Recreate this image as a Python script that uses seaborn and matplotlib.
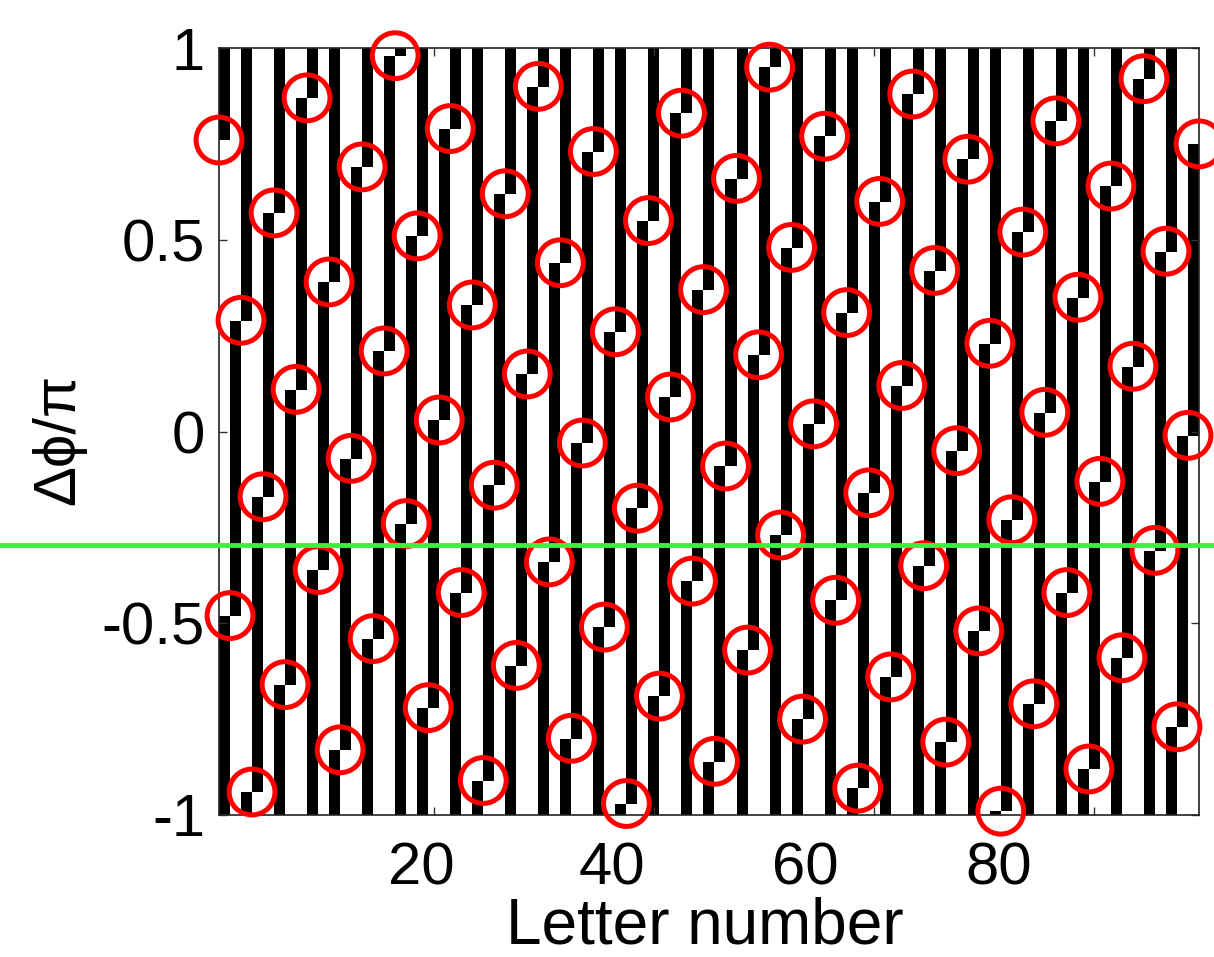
import numpy as np
import matplotlib
matplotlib.use("Agg")
import matplotlib.pyplot as plt
import matplotlib.transforms as mtransforms
from matplotlib.lines import Line2D
import seaborn as sns
import pandas as pd

# ---------------- data ----------------
# phase difference (in units of pi) at each boundary between letters
phase = [0.76, -0.48, 0.29, -0.94, -0.17, 0.57, -0.66, 0.11, 0.87, -0.36,
         0.39, -0.83, -0.07, 0.69, -0.54, 0.21, 0.98, -0.24, 0.51, -0.72,
         0.03, 0.79, -0.42, 0.33, -0.91, -0.14, 0.62, -0.61, 0.15, 0.90,
         -0.34, 0.44, -0.80, -0.03, 0.73, -0.51, 0.26, -0.97, -0.20, 0.55,
         -0.69, 0.09, 0.83, -0.39, 0.37, -0.86, -0.09, 0.66, -0.57, 0.20,
         0.95, -0.27, 0.48, -0.75, 0.02, 0.77, -0.44, 0.31, -0.93, -0.16,
         0.60, -0.64, 0.12, 0.88, -0.35, 0.42, -0.81, -0.05, 0.71, -0.52,
         0.23, -0.99, -0.23, 0.52, -0.71, 0.05, 0.81, -0.42, 0.35, -0.88,
         -0.13, 0.64, -0.59, 0.17, 0.92, -0.31, 0.47, -0.77, -0.01, 0.75]
n_letters = len(phase) - 1                      # 89 letters
boundary = np.arange(len(phase)) + 0.5          # boundaries 0.5 .. 89.5
x_ticks = [20, 40, 60, 80]
y_ticks = [-1, -0.5, 0, 0.5, 1]
y_ticklabels = ["-1", "-0.5", "0", "0.5", "1"]
green_level = -0.295
x_label = "Letter number"
y_label = "Δϕ/π"

df = pd.DataFrame({"x": boundary, "phase": phase})

# ---------------- figure ----------------
sns.set_theme(style="white")
plt.rcParams["font.family"] = ["Liberation Sans", "DejaVu Sans"]
FS = 43

fig = plt.figure(figsize=(12.14, 9.57), dpi=100)
ax = fig.add_axes([219 / 1214, 1 - 815 / 957, 980 / 1214, 767 / 957])

# binary stripe image: letter c is black between phase[c-1] and phase[c] (mod 2)
ny = 1534
yc = -1 + (np.arange(ny) + 0.5) * 2 / ny
ph = np.asarray(phase)
start = ph[:-1]
span = np.mod(ph[1:] - ph[:-1], 2)
rel = np.mod(yc[:, None] - start[None, :], 2)
img = (rel < span[None, :]).astype(float)
ax.imshow(img, extent=(0.5, n_letters + 0.5, -1, 1), origin="lower",
          cmap="gray_r", vmin=0, vmax=1, aspect="auto",
          interpolation="nearest", zorder=0)

sns.scatterplot(data=df, x="x", y="phase", ax=ax, marker="o", s=33 ** 2,
                color="red", facecolor="none", edgecolor="red",
                linewidth=3.6, clip_on=False, zorder=5, legend=False)

ax.set_xlim(0.5, n_letters + 0.5)
ax.set_ylim(-1, 1)
ax.set_xticks(x_ticks)
ax.set_xticklabels([str(t) for t in x_ticks])
ax.set_yticks(y_ticks)
ax.set_yticklabels(y_ticklabels)
ax.tick_params(axis="both", direction="in", length=6, width=1,
               color="#333333", top=True, right=True, bottom=True, left=True,
               labelsize=FS, labelcolor="black")
ax.tick_params(axis="x", pad=19)
ax.tick_params(axis="y", pad=10)

# x tick labels in the reference sit left of their tick marks
for lab, dx in zip(ax.get_xticklabels(), [-12, -42, -69, -96]):
    lab.set_transform(lab.get_transform() +
                      mtransforms.ScaledTranslation(dx / 100, 0, fig.dpi_scale_trans))

for s in ax.spines.values():
    s.set_visible(True)
    s.set_color("#222222")
    s.set_linewidth(1.2)
    s.set_zorder(3)

ax.set_xlabel(x_label, fontsize=46, color="black")
ax.set_ylabel(y_label, fontsize=FS, color="black")
ax.xaxis.set_label_coords(0.496, -0.106)
ax.yaxis.set_label_coords(-0.135, 0.49)

# green horizontal line across the whole figure
tr = mtransforms.blended_transform_factory(fig.transFigure, ax.transData)
fig.add_artist(Line2D([0, 1], [green_level, green_level], transform=tr,
                      color="#3df03d", lw=3.5, zorder=10))

fig.savefig("out.png", dpi=100)
